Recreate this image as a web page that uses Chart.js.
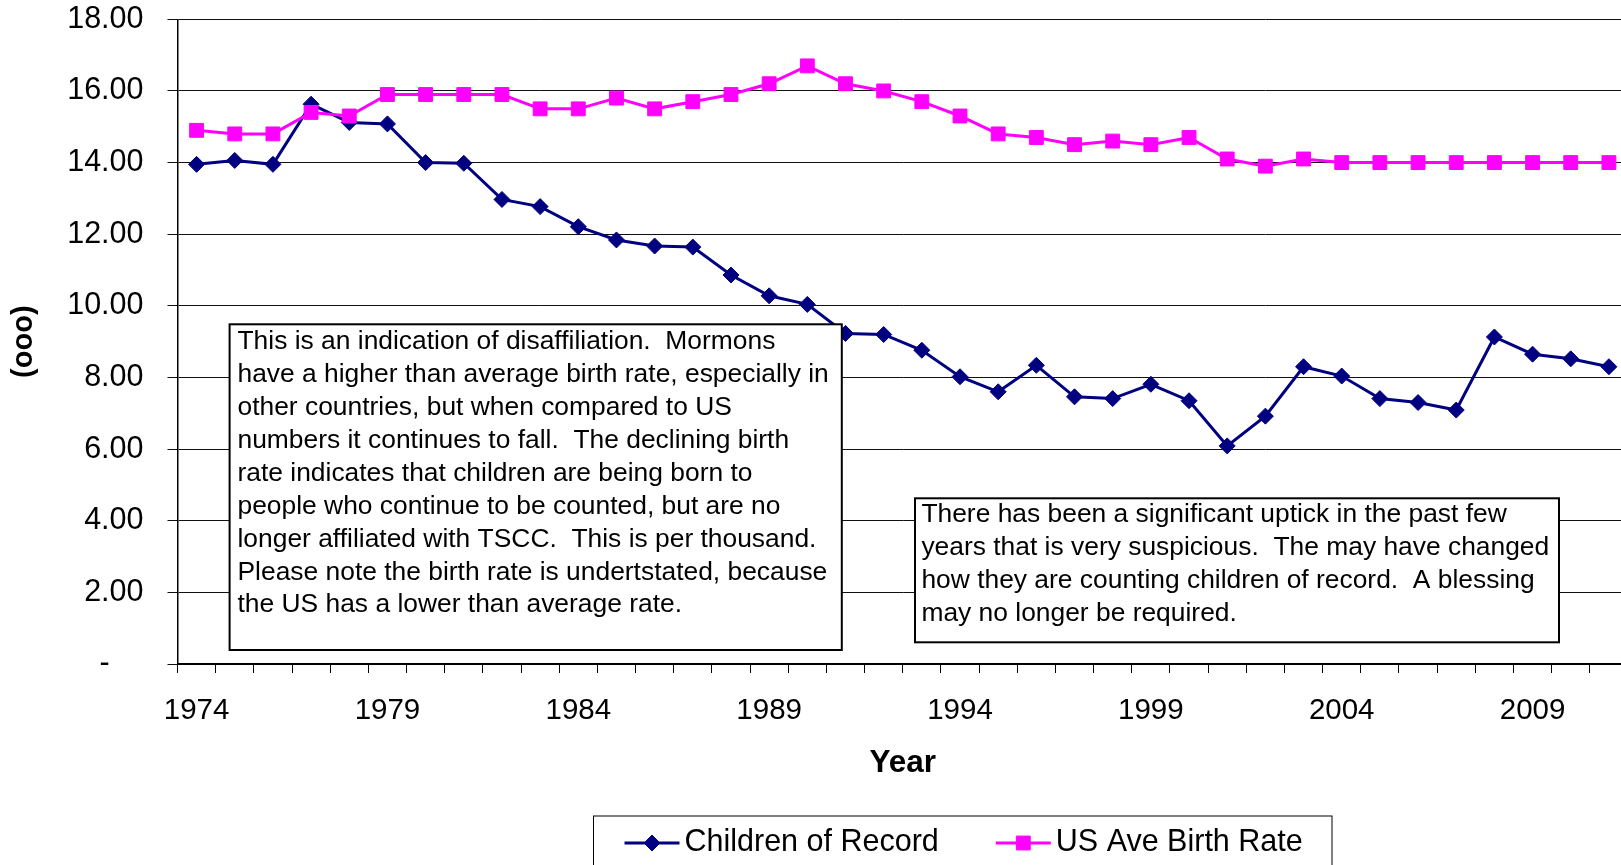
<!DOCTYPE html>
<html>
<head>
<meta charset="utf-8">
<script src="https://cdn.jsdelivr.net/npm/chart.js@4.4.1/dist/chart.umd.min.js"></script>
<style>
  html, body { margin: 0; padding: 0; background: #fff; overflow: hidden; }
  #wrap { position: relative; width: 1640px; height: 865px; }
</style>
</head>
<body>
<div id="wrap"><canvas id="birthChart"></canvas></div>
<script>
// Years 1974..2011 (category axis)
const years = [
  "1974", "1975", "1976", "1977", "1978", "1979", "1980", "1981", "1982", "1983",
  "1984", "1985", "1986", "1987", "1988", "1989", "1990", "1991", "1992", "1993",
  "1994", "1995", "1996", "1997", "1998", "1999", "2000", "2001", "2002", "2003",
  "2004", "2005", "2006", "2007", "2008", "2009", "2010", "2011"
];

// per thousand
const childrenOfRecord = [
  13.95, 14.06, 13.95, 15.63, 15.12, 15.08, 14.00, 13.98, 12.97, 12.77,
  12.21, 11.84, 11.67, 11.64, 10.86, 10.28, 10.04, 9.23, 9.20, 8.76,
  8.02, 7.60, 8.34, 7.46, 7.41, 7.81, 7.35, 6.09, 6.92, 8.30,
  8.04, 7.41, 7.30, 7.09, 9.13, 8.65, 8.52, 8.30
];

const usAveBirthRate = [
  14.9, 14.8, 14.8, 15.4, 15.3, 15.9, 15.9, 15.9, 15.9, 15.5,
  15.5, 15.8, 15.5, 15.7, 15.9, 16.2, 16.7, 16.2, 16.0, 15.7,
  15.3, 14.8, 14.7, 14.5, 14.6, 14.5, 14.7, 14.1, 13.9, 14.1,
  14.0, 14.0, 14.0, 14.0, 14.0, 14.0, 14.0, 14.0
];

const seriesNames = ["Children of Record", "US Ave Birth Rate"];

const noteLeftLines = [
  "This is an indication of disaffiliation.  Mormons",
  "have a higher than average birth rate, especially in",
  "other countries, but when compared to US",
  "numbers it continues to fall.  The declining birth",
  "rate indicates that children are being born to",
  "people who continue to be counted, but are no",
  "longer affiliated with TSCC.  This is per thousand.",
  "Please note the birth rate is undertstated, because",
  "the US has a lower than average rate."
];

const noteRightLines = [
  "There has been a significant uptick in the past few",
  "years that is very suspicious.  The may have changed",
  "how they are counting children of record.  A blessing",
  "may no longer be required."
];

const FONT = "'Liberation Sans', Arial, sans-serif";
Chart.defaults.font.family = FONT;
Chart.defaults.color = "#000";

/**
 * Text boxes drawn on top of the lines (white fill hides what is behind).
 */
const noteBoxes = {
  id: "noteBoxes",
  afterDatasetsDraw(chart) {
    const { ctx } = chart;
    const boxes = [
      { l: 229.6, t: 324.3, r: 841.8, b: 650, tx: 237.5, ty: 342, lines: noteLeftLines },
      { l: 915, t: 498.3, r: 1559, b: 642.3, tx: 921.4, ty: 515, lines: noteRightLines },
    ];
    ctx.save();
    ctx.font = "26.4px " + FONT;
    ctx.textBaseline = "middle";
    ctx.textAlign = "left";
    boxes.forEach(bx => {
      ctx.fillStyle = "#fff";
      ctx.fillRect(bx.l, bx.t, bx.r - bx.l, bx.b - bx.t);
      ctx.strokeStyle = "#000";
      ctx.lineWidth = 2;
      ctx.strokeRect(bx.l, bx.t, bx.r - bx.l, bx.b - bx.t);
      ctx.fillStyle = "#000";
      bx.lines.forEach((s, i) => ctx.fillText(s, bx.tx, bx.ty + i * 32.9));
    });
    ctx.restore();
  },
};

/**
 * Boxed legend under the axis title: line sample with marker, then label.
 */
const boxedLegend = {
  id: "boxedLegend",
  afterDraw(chart) {
    const { ctx } = chart;
    const left = 593.5, top = 816, right = 1332;
    const cy = 843;
    ctx.save();
    ctx.strokeStyle = "#000";
    ctx.lineWidth = 1;
    ctx.strokeRect(left, top, right - left, 80);

    ctx.font = "30.5px " + FONT;
    ctx.textBaseline = "middle";
    ctx.textAlign = "left";
    let x = 624.5;
    chart.data.datasets.forEach(ds => {
      const x1 = x + 55;
      ctx.strokeStyle = ds.borderColor;
      ctx.lineWidth = ds.borderWidth;
      ctx.beginPath();
      ctx.moveTo(x, cy);
      ctx.lineTo(x1, cy);
      ctx.stroke();
      ctx.fillStyle = ds.pointBackgroundColor;
      ctx.strokeStyle = ds.pointBorderColor;
      ctx.lineWidth = 1;
      Chart.helpers.drawPoint(ctx, {
        pointStyle: ds.pointStyle, radius: ds.pointRadius, borderWidth: 1, rotation: 0
      }, (x + x1) / 2, cy);
      ctx.fillStyle = "#000";
      ctx.fillText(ds.label, x1 + 5, cy);
      x = x1 + 5 + ctx.measureText(ds.label).width + 57;
    });
    ctx.restore();
  },
};

new Chart(document.getElementById("birthChart"), {
  type: "line",
  data: {
    labels: years,
    datasets: [
      {
        label: seriesNames[0],
        data: childrenOfRecord,
        borderColor: "#000080",
        backgroundColor: "#000080",
        pointBackgroundColor: "#000080",
        pointBorderColor: "#000080",
        borderWidth: 3,
        pointStyle: "rectRot",
        pointRadius: 8,
        pointBorderWidth: 1,
        tension: 0,
        order: 1,
      },
      {
        label: seriesNames[1],
        data: usAveBirthRate,
        borderColor: "#FF00FF",
        backgroundColor: "#FF00FF",
        pointBackgroundColor: "#FF00FF",
        pointBorderColor: "#FF00FF",
        borderWidth: 3,
        pointStyle: "rect",
        pointRadius: 9.8,
        pointBorderWidth: 1,
        tension: 0,
        order: 0,
      },
    ],
  },
  options: {
    responsive: true,
    maintainAspectRatio: false,
    animation: false,
    layout: { padding: { top: 0, right: 12, left: 0, bottom: 0 } },
    plugins: {
      legend: { display: false },
      tooltip: { enabled: false },
    },
    scales: {
      x: {
        type: "category",
        offset: true,
        afterFit: s => { s.height = 201; },
        grid: {
          offset: true,
          drawOnChartArea: false,
          drawTicks: true,
          tickLength: 9,
          color: "#000",
          lineWidth: 1,
        },
        border: { display: true, color: "#000", width: 2 },
        ticks: {
          autoSkip: false,
          maxRotation: 0,
          padding: 20,
          font: { size: 29.5 },
          color: "#000",
          callback: function (v, i) { return i % 5 === 0 ? this.getLabelForValue(v) : ""; },
        },
        title: {
          display: true,
          text: "Year",
          font: { size: 31.5, weight: "bold" },
          color: "#000",
          padding: { top: 0, bottom: 83 },
        },
      },
      y: {
        min: 0,
        max: 18,
        afterFit: s => { s.width = 177.5; s.paddingTop = 19.3; s.paddingBottom = 0; },
        grid: {
          color: "#111",
          lineWidth: 1,
          drawTicks: true,
          tickLength: 10,
        },
        border: { display: true, color: "#000", width: 1.5 },
        ticks: {
          stepSize: 2,
          padding: 24,
          font: { size: 30.5 },
          color: "#000",
          callback: v => (v === 0 ? "-    " : v.toFixed(2)),
        },
        title: {
          display: true,
          text: "(ooo)",
          font: { size: 29, weight: "bold" },
          color: "#000",
          padding: { top: 7, bottom: 0 },
        },
      },
    },
  },
  plugins: [noteBoxes, boxedLegend],
});
</script>
</body>
</html>
